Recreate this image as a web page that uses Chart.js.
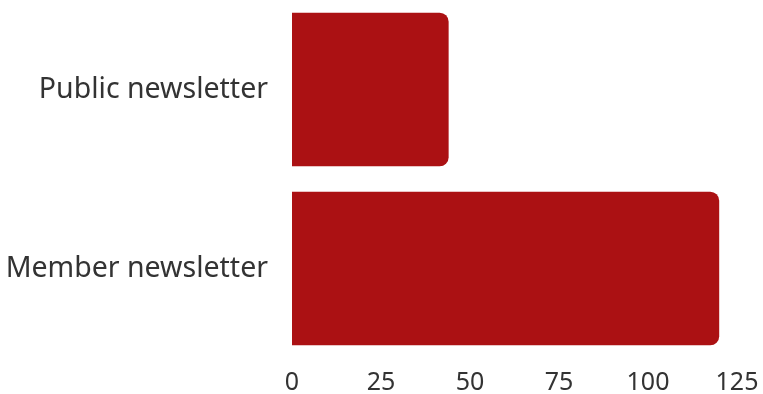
<!DOCTYPE html>
<html>
<head>
<meta charset="utf-8">
<script src="https://cdn.jsdelivr.net/npm/chart.js@4/dist/chart.umd.min.js"></script>
<style>
html,body{margin:0;padding:0;background:#fff;}
</style>
</head>
<body>
<canvas id="c" width="763" height="394"></canvas>
<script>
const categories = ["Public newsletter", "Member newsletter"];
const values = [44, 120];
const tickValues = [0, 25, 50, 75, 100, 125];

Chart.defaults.font.family = "'Noto Sans', 'Open Sans', sans-serif";
Chart.defaults.color = "#333333";

new Chart(document.getElementById('c'), {
  type: 'bar',
  data: {
    labels: categories,
    datasets: [{
      data: values,
      backgroundColor: '#ab1113',
      borderRadius: 9,
      borderSkipped: 'start',
      categoryPercentage: 1,
      barPercentage: 0.858
    }]
  },
  options: {
    indexAxis: 'y',
    responsive: false,
    maintainAspectRatio: false,
    animation: false,
    layout: { padding: { top: 0, right: 26, bottom: 0, left: 0 } },
    plugins: { legend: { display: false }, tooltip: { enabled: false } },
    scales: {
      x: {
        min: 0, max: 125,
        afterBuildTicks: (axis) => { axis.ticks = tickValues.map(v => ({ value: v })); },
        afterFit: (axis) => { axis.height = 36; axis.paddingLeft = 0; axis.paddingRight = 0; },
        grid: { display: false, drawTicks: false },
        border: { display: false },
        ticks: { font: { size: 25 }, padding: 10, maxRotation: 0 }
      },
      y: {
        afterFit: (axis) => { axis.width = 292; axis.paddingTop = 0; axis.paddingBottom = 0; },
        grid: { display: false, drawTicks: false },
        border: { display: false },
        ticks: { font: { size: 28.5 }, padding: 24 }
      }
    }
  }
});
</script>
</body>
</html>
